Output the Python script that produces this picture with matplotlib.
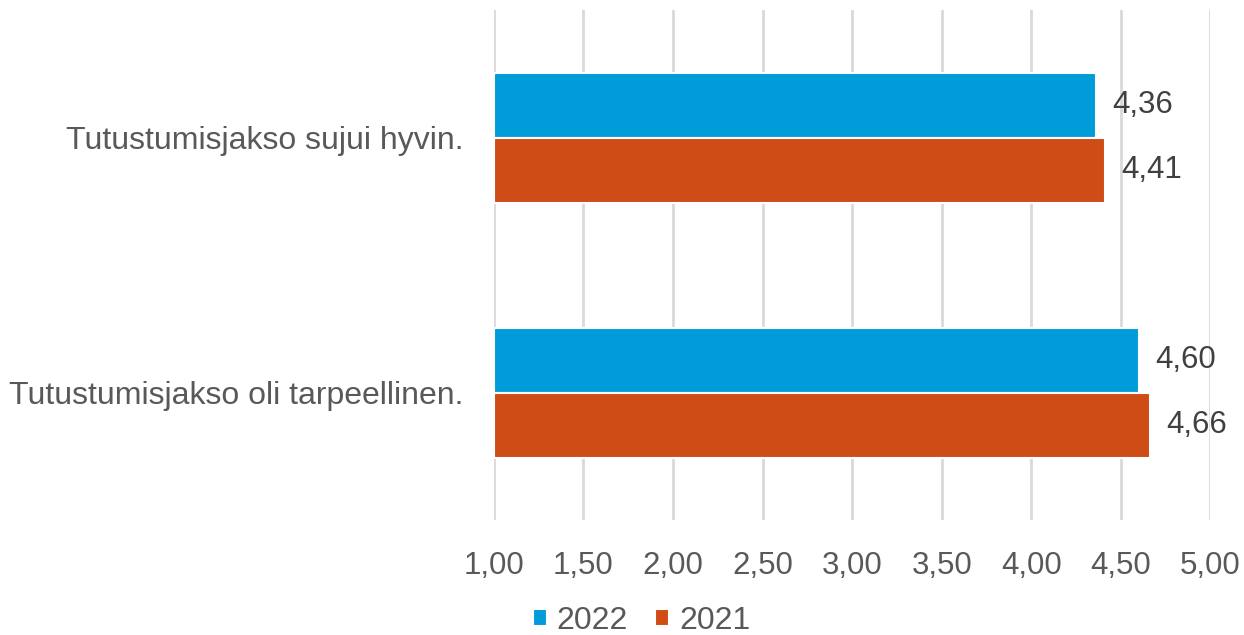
import matplotlib.pyplot as plt
import numpy as np

plt.rcParams['font.family'] = ['Liberation Sans', 'DejaVu Sans']

categories = ['Tutustumisjakso sujui hyvin.', 'Tutustumisjakso oli tarpeellinen.']
values_2022 = [4.36, 4.60]
values_2021 = [4.41, 4.66]
xticks = [1.0, 1.5, 2.0, 2.5, 3.0, 3.5, 4.0, 4.5, 5.0]

blue = '#009CD9'
orange = '#D04C16'
text_color = '#595959'

fig = plt.figure(figsize=(12.44, 6.35), dpi=100)
ax = fig.add_axes([0.397, 0.181, 0.576, 0.803])

y = np.arange(len(categories))
h = 0.255
b1 = ax.barh(y - h / 2, np.array(values_2022) - 1, left=1, height=h, color=blue,
             edgecolor='white', linewidth=1.5, label='2022', zorder=3)
b2 = ax.barh(y + h / 2, np.array(values_2021) - 1, left=1, height=h, color=orange,
             edgecolor='white', linewidth=1.5, label='2021', zorder=3)

# value labels to the right of each bar
for bars, vals in [(b1, values_2022), (b2, values_2021)]:
    for bar, v in zip(bars, vals):
        ax.annotate(f'{v:.2f}'.replace('.', ','), (v, bar.get_y() + bar.get_height() / 2),
                    xytext=(12, 0), textcoords='offset points', va='center', ha='left',
                    fontsize=22.5, color='#404040')

ax.set_xlim(1, 5.0)
ax.set_ylim(1.5, -0.5)
ax.set_xticks(xticks)
ax.set_xticklabels([f'{t:.2f}'.replace('.', ',') for t in xticks])
ax.set_yticks(y)
ax.set_yticklabels(categories)
ax.tick_params(axis='x', length=0, labelsize=22.5, labelcolor=text_color, pad=22)
ax.tick_params(axis='y', length=0, labelsize=23, labelcolor=text_color, pad=22)
ax.grid(axis='x', color='#D9D9D9', linewidth=2, zorder=0)
for s in ax.spines.values():
    s.set_visible(False)

ax.legend(loc='lower center', bbox_to_anchor=(0.206, -0.252), ncol=2, frameon=False,
          fontsize=23, labelcolor=text_color, handlelength=0.45, handleheight=0.45,
          handletextpad=0.3, columnspacing=0.85, borderaxespad=0)

fig.savefig('out.png', dpi=100)
